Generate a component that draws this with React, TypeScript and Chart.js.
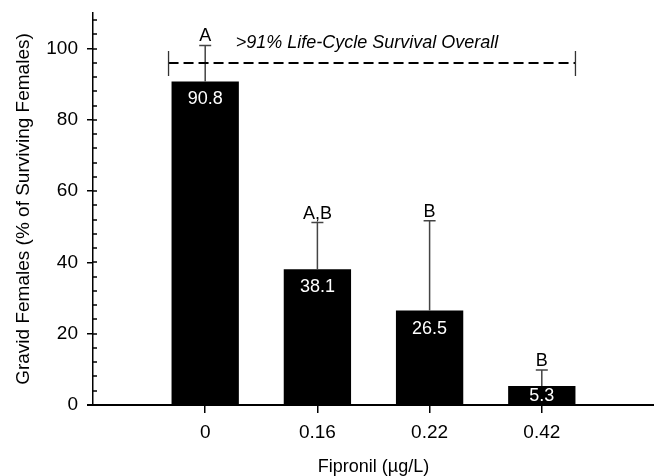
import React, { useEffect, useRef } from 'react';
import { Chart, registerables } from 'chart.js';

Chart.register(...registerables);

const categories = ['', '0', '0.16', '0.22', '0.42', ''];
const gravidPct = [null, 90.8, 38.1, 26.5, 5.3, null];
const errorTop = [null, 100.9, 51.2, 51.7, 9.8, null];
const groupLetters = ['', 'A', 'A,B', 'B', 'B', ''];
const valueLabels = ['', '90.8', '38.1', '26.5', '5.3', ''];
const survivalLevel = 96;
const survivalText = '>91% Life-Cycle Survival Overall';
const yMax = 110;
const yMajorStep = 20;
const yMinorStep = 4;
const yLabelMax = 100;

const FONT = '"Liberation Sans", Arial, Helvetica, sans-serif';

const annotate = {
  id: 'annotate',
  afterDatasetsDraw(chart: any) {
    const ctx = chart.ctx;
    const xs = chart.scales.x;
    const ys = chart.scales.y;
    const meta = chart.getDatasetMeta(0);
    ctx.save();
    // inner minor ticks
    ctx.strokeStyle = '#000';
    ctx.lineWidth = 1.5;
    for (let v = 0; v <= yMax; v += yMinorStep) {
      const py = Math.round(ys.getPixelForValue(v));
      ctx.beginPath();
      ctx.moveTo(xs.left, py);
      ctx.lineTo(xs.left + 4, py);
      ctx.stroke();
    }
    // x axis line
    ctx.lineWidth = 2;
    ctx.beginPath();
    ctx.moveTo(xs.left - 6, ys.bottom);
    ctx.lineTo(xs.right, ys.bottom);
    ctx.stroke();

    let halfW = 0;
    meta.data.forEach((bar: any, i: number) => {
      const v = gravidPct[i];
      if (v == null) return;
      const p = bar.getProps(['x', 'y', 'base', 'width'], true);
      halfW = p.width / 2;
      const top = ys.getPixelForValue(errorTop[i] as number);
      ctx.strokeStyle = '#444';
      ctx.lineWidth = 1.5;
      ctx.setLineDash([]);
      ctx.beginPath();
      ctx.moveTo(p.x, p.y);
      ctx.lineTo(p.x, top);
      ctx.moveTo(p.x - 6, top);
      ctx.lineTo(p.x + 6, top);
      ctx.stroke();
      ctx.font = `18px ${FONT}`;
      ctx.textAlign = 'center';
      ctx.fillStyle = '#000';
      ctx.textBaseline = 'alphabetic';
      ctx.fillText(groupLetters[i], p.x, top - 4);
      ctx.fillStyle = '#fff';
      ctx.textBaseline = 'middle';
      const ly = Math.min(p.y + 18, p.base - 8);
      ctx.fillText(valueLabels[i], p.x, ly);
    });

    // survival bracket
    const py = ys.getPixelForValue(survivalLevel);
    const lx = xs.getPixelForValue(1) - halfW - 3;
    const rx = xs.getPixelForValue(4) + halfW;
    ctx.strokeStyle = '#000';
    ctx.lineWidth = 2;
    ctx.setLineDash([10, 5]);
    ctx.beginPath();
    ctx.moveTo(lx, py);
    ctx.lineTo(rx, py);
    ctx.stroke();
    ctx.setLineDash([]);
    ctx.strokeStyle = '#333';
    ctx.lineWidth = 1.3;
    ctx.beginPath();
    ctx.moveTo(lx, py - 12);
    ctx.lineTo(lx, py + 13);
    ctx.moveTo(rx, py - 12);
    ctx.lineTo(rx, py + 13);
    ctx.stroke();
    ctx.fillStyle = '#000';
    ctx.font = `italic 18px ${FONT}`;
    ctx.textAlign = 'center';
    ctx.textBaseline = 'alphabetic';
    ctx.fillText(survivalText, (lx + rx) / 2 - 5, py - 15);
    ctx.restore();
  },
};

export default function App() {
  const ref = useRef<HTMLCanvasElement>(null);
  useEffect(() => {
    if (!ref.current) return;
    const chart = new Chart(ref.current, {
      type: 'bar',
      data: {
        labels: categories,
        datasets: [
          {
            data: gravidPct as any,
            backgroundColor: '#000',
            borderWidth: 0,
            categoryPercentage: 1,
            barPercentage: 0.6,
          },
        ],
      },
      options: {
        animation: false,
        responsive: false,
        devicePixelRatio: 1,
        layout: { padding: { top: 13, right: 1, left: 0, bottom: 0 } },
        plugins: { legend: { display: false }, tooltip: { enabled: false } },
        scales: {
          x: {
            type: 'category',
            offset: false,
            afterFit: (s: any) => {
              s.height = 71;
              s.paddingLeft = 0;
              s.paddingRight = 0;
            },
            border: { display: false },
            grid: {
              offset: false,
              drawOnChartArea: false,
              drawTicks: true,
              tickLength: 8,
              lineWidth: 1.5,
              color: (c: any) => (c.index === 0 || c.index === categories.length - 1 ? 'rgba(0,0,0,0)' : '#000'),
            },
            ticks: {
              color: '#000',
              font: { family: FONT, size: 19 },
              padding: 8,
              maxRotation: 0,
              autoSkip: false,
            },
            title: {
              display: true,
              text: 'Fipronil (µg/L)',
              color: '#000',
              font: { family: FONT, size: 18, lineHeight: 1 },
              padding: { top: 0, bottom: 0 },
            },
          },
          y: {
            min: 0,
            max: yMax,
            afterFit: (s: any) => {
              s.width = 93;
              s.paddingTop = 0;
              s.paddingBottom = 0;
            },
            afterBuildTicks: (s: any) => {
              s.ticks = s.ticks.filter((t: any) => t.value <= yLabelMax);
            },
            border: { display: true, color: '#000', width: 1.5 },
            grid: {
              drawOnChartArea: false,
              drawTicks: true,
              tickLength: 6,
              lineWidth: 1.5,
              color: '#000',
            },
            ticks: {
              stepSize: yMajorStep,
              color: '#000',
              font: { family: FONT, size: 19 },
              padding: 9,
            },
            title: {
              display: true,
              text: 'Gravid Females (% of Surviving Females)',
              color: '#000',
              font: { family: FONT, size: 19, lineHeight: 1.2 },
              padding: { top: 12, bottom: 0 },
            },
          },
        },
      },
      plugins: [annotate],
    });
    return () => chart.destroy();
  }, []);
  return (
    <div style={{ position: 'fixed', left: 0, top: 0, width: 655, height: 476, background: '#fff' }}>
      <canvas ref={ref} width={655} height={476} style={{ display: 'block' }} />
    </div>
  );
}
